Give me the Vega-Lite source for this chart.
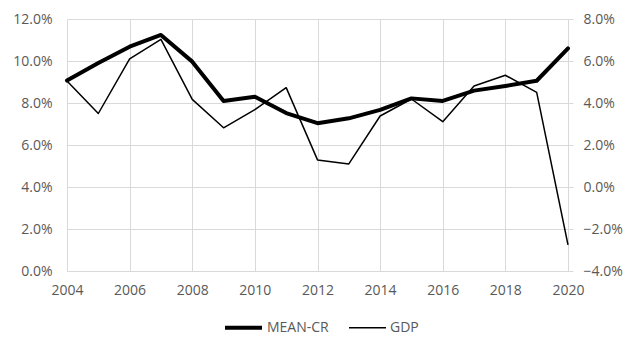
{
  "$schema": "https://vega.github.io/schema/vega-lite/v6.json",
  "width": 501,
  "height": 252,
  "autosize": {"type": "none"},
  "padding": {"left": 67, "top": 19, "right": 65, "bottom": 84},
  "background": "white",
  "config": {
    "view": {"stroke": null},
    "font": "Open Sans",
    "axis": {"labelFont": "Open Sans", "labelFontSize": 14, "labelColor": "#595959", "gridColor": "#d9d9d9", "domainColor": "#d9d9d9", "tickColor": "#d9d9d9", "labelFlush": false},
    "legend": {"labelFont": "Open Sans", "labelFontSize": 14, "labelColor": "#595959"}
  },
  "data": {"values": [
    {"year": 2004, "series": "MEAN-CR", "value": 0.0907},
    {"year": 2005, "series": "MEAN-CR", "value": 0.099},
    {"year": 2006, "series": "MEAN-CR", "value": 0.1068},
    {"year": 2007, "series": "MEAN-CR", "value": 0.1124},
    {"year": 2008, "series": "MEAN-CR", "value": 0.0997},
    {"year": 2009, "series": "MEAN-CR", "value": 0.081},
    {"year": 2010, "series": "MEAN-CR", "value": 0.083},
    {"year": 2011, "series": "MEAN-CR", "value": 0.0752},
    {"year": 2012, "series": "MEAN-CR", "value": 0.0704},
    {"year": 2013, "series": "MEAN-CR", "value": 0.0727},
    {"year": 2014, "series": "MEAN-CR", "value": 0.0767},
    {"year": 2015, "series": "MEAN-CR", "value": 0.0822},
    {"year": 2016, "series": "MEAN-CR", "value": 0.081},
    {"year": 2017, "series": "MEAN-CR", "value": 0.0859},
    {"year": 2018, "series": "MEAN-CR", "value": 0.0881},
    {"year": 2019, "series": "MEAN-CR", "value": 0.0906},
    {"year": 2020, "series": "MEAN-CR", "value": 0.106},
    {"year": 2004, "series": "GDP", "value": 0.0505},
    {"year": 2005, "series": "GDP", "value": 0.035},
    {"year": 2006, "series": "GDP", "value": 0.061},
    {"year": 2007, "series": "GDP", "value": 0.0703},
    {"year": 2008, "series": "GDP", "value": 0.0417},
    {"year": 2009, "series": "GDP", "value": 0.0282},
    {"year": 2010, "series": "GDP", "value": 0.0368},
    {"year": 2011, "series": "GDP", "value": 0.0473},
    {"year": 2012, "series": "GDP", "value": 0.0129},
    {"year": 2013, "series": "GDP", "value": 0.011},
    {"year": 2014, "series": "GDP", "value": 0.0338},
    {"year": 2015, "series": "GDP", "value": 0.0419},
    {"year": 2016, "series": "GDP", "value": 0.0311},
    {"year": 2017, "series": "GDP", "value": 0.0481},
    {"year": 2018, "series": "GDP", "value": 0.0532},
    {"year": 2019, "series": "GDP", "value": 0.0451},
    {"year": 2020, "series": "GDP", "value": -0.0276}
  ]},
  "encoding": {
    "x": {"field": "year", "type": "quantitative", "title": null,
      "scale": {"domain": [2004, 2020], "nice": false, "zero": false},
      "axis": {"values": [2004, 2006, 2008, 2010, 2012, 2014, 2016, 2018, 2020], "format": "d", "ticks": false, "labelPadding": 12, "domain": true, "grid": true}}
  },
  "layer": [
    {
      "transform": [{"filter": "datum.series === 'MEAN-CR'"}],
      "mark": {"type": "line", "color": "black", "strokeJoin": "round", "strokeCap": "round"},
      "encoding": {
        "y": {"field": "value", "type": "quantitative", "title": null,
          "scale": {"domain": [0, 0.12], "nice": false},
          "axis": {"orient": "left", "values": [0, 0.02, 0.04, 0.06, 0.08, 0.1, 0.12], "format": ".1%", "domain": false, "ticks": false, "labelPadding": 15, "grid": true}},
        "strokeWidth": {"field": "series", "type": "nominal",
          "scale": {"domain": ["MEAN-CR", "GDP"], "range": [4, 1.5]},
          "legend": {"title": null, "orient": "none", "direction": "horizontal", "legendX": 156, "legendY": 288, "symbolType": "stroke", "symbolSize": 1369, "symbolStrokeColor": "black", "columnPadding": 17, "labelOffset": 3}}
      }
    },
    {
      "transform": [{"filter": "datum.series === 'GDP'"}],
      "mark": {"type": "line", "color": "black", "strokeJoin": "round"},
      "encoding": {
        "y": {"field": "value", "type": "quantitative", "title": null,
          "scale": {"domain": [-0.04, 0.08], "nice": false},
          "axis": {"orient": "right", "values": [-0.04, -0.02, 0, 0.02, 0.04, 0.06, 0.08], "format": ".1%", "domain": true, "ticks": true, "tickSize": 5, "labelPadding": 10, "grid": false}},
        "strokeWidth": {"field": "series", "type": "nominal"}
      }
    }
  ],
  "resolve": {"scale": {"y": "independent", "strokeWidth": "shared"}}
}
